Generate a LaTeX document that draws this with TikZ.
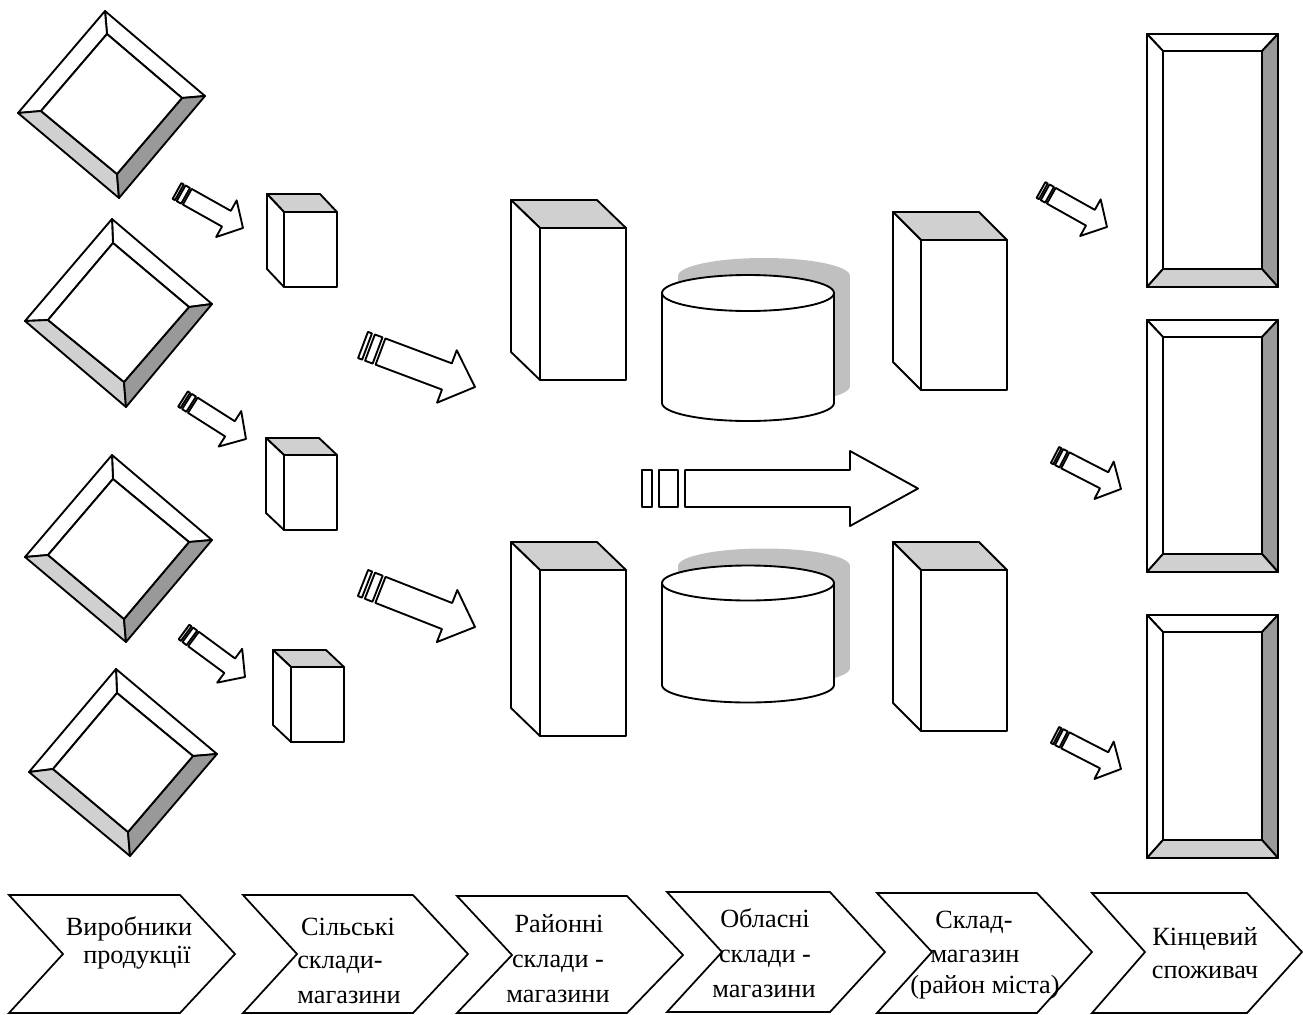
\documentclass[tikz,border=0pt]{standalone}
\usepackage{fontspec}
\setmainfont{Liberation Serif}
\definecolor{lg}{HTML}{D0D0D0}
\definecolor{dg}{HTML}{999999}
\definecolor{sh}{HTML}{C0C0C0}
\tikzset{
  ol/.style={draw=black, line width=1.4pt, line join=round},
  chev/.style={draw=black, line width=1.3pt, line join=miter, fill=white},
  txt/.style={anchor=base, inner sep=0pt, font=\fontsize{19.7}{24}\selectfont}
}
% bevelled diamond: outer top,right,bottom,left ; inner top,right,bottom,left
\newcommand\bevdiamond[8]{%
  \draw[ol,fill=white] (#1)--(#2)--(#6)--(#5)--cycle;
  \draw[ol,fill=white] (#1)--(#5)--(#8)--(#4)--cycle;
  \draw[ol,fill=lg] (#4)--(#8)--(#7)--(#3)--cycle;
  \draw[ol,fill=dg] (#2)--(#3)--(#7)--(#6)--cycle;
  \draw[ol,fill=white] (#5)--(#6)--(#7)--(#8)--cycle;}
% bevelled rectangle: outer x1 y1 x2 y2, inner x1 y1 x2 y2
\newcommand\bevrect[8]{%
  \draw[ol,fill=white] (#1,#2)--(#3,#2)--(#7,#6)--(#5,#6)--cycle;
  \draw[ol,fill=white] (#1,#2)--(#5,#6)--(#5,#8)--(#1,#4)--cycle;
  \draw[ol,fill=dg] (#3,#2)--(#3,#4)--(#7,#8)--(#7,#6)--cycle;
  \draw[ol,fill=lg] (#1,#4)--(#5,#8)--(#7,#8)--(#3,#4)--cycle;
  \draw[ol,fill=white] (#5,#6) rectangle (#7,#8);}
% cuboid: front x1 y1 x2 y2, back offset dx dy
\newcommand\cuboid[6]{%
  \pgfmathsetmacro\cuA{#1+#5}\pgfmathsetmacro\cuB{#2+#6}%
  \pgfmathsetmacro\cuC{#3+#5}\pgfmathsetmacro\cuD{#4+#6}%
  \draw[ol,fill=lg] (#1,#2)--(\cuA,\cuB)--(\cuC,\cuB)--(#3,#2)--cycle;
  \draw[ol,fill=white] (#1,#2)--(\cuA,\cuB)--(\cuA,\cuD)--(#1,#4)--cycle;
  \draw[ol,fill=white] (#1,#2) rectangle (#3,#4);}
% cylinder: cx rx topcy botcy ry
\newcommand\cyl[5]{%
  \pgfmathsetmacro\cyL{#1-#2}\pgfmathsetmacro\cyR{#1+#2}%
  \begin{scope}[shift={(16,-17)}]
    \fill[sh] (#1,#3) ellipse [x radius=#2, y radius=#5];
    \fill[sh] (\cyL,#3) rectangle (\cyR,#4);
    \fill[sh] (#1,#4) ellipse [x radius=#2, y radius=#5];
  \end{scope}
  \fill[white] (#1,#4) ellipse [x radius=#2, y radius=#5];
  \fill[white] (\cyL,#3) rectangle (\cyR,#4);
  \draw[ol] (\cyL,#3) -- (\cyL,#4);
  \draw[ol] (\cyR,#3) -- (\cyR,#4);
  \begin{scope}
    \clip (\cyL-5,#4) rectangle (\cyR+5,#4+#5+5);
    \draw[ol] (#1,#4) ellipse [x radius=#2, y radius=#5];
  \end{scope}
  \draw[ol,fill=white] (#1,#3) ellipse [x radius=#2, y radius=#5];}
% block arrow with striped tail: sx sy tx ty bodyhalf headhalf headlen
\newcommand\blockarrow[7]{%
  \pgfmathsetmacro\baang{atan2(#2-#4,#3-#1)}%
  \pgfmathsetmacro\balen{veclen(#3-#1,#4-#2)}%
  \pgfmathsetmacro\baa{0.036*\balen}\pgfmathsetmacro\bab{0.062*\balen}%
  \pgfmathsetmacro\bac{0.13*\balen}\pgfmathsetmacro\bad{0.156*\balen}%
  \pgfmathsetmacro\bae{\balen-#7}%
  \begin{scope}[shift={(#1,#2)},rotate=\baang]
    \draw[ol,fill=white] (0,-#5) rectangle (\baa,#5);
    \draw[ol,fill=white] (\bab,-#5) rectangle (\bac,#5);
    \draw[ol,fill=white] (\bad,-#5) -- (\bae,-#5) -- (\bae,-#6) -- (\balen,0)
       -- (\bae,#6) -- (\bae,#5) -- (\bad,#5) -- cycle;
  \end{scope}}
\begin{document}
\begin{tikzpicture}[x=0.75pt,y=-0.75pt]
\useasboundingbox (0,0) rectangle (1303,1014);

% producers (diamonds)
\bevdiamond{105,11}{205,96}{119,198}{18,113}{107,34}{182,98}{117,174}{41,111}
\bevdiamond{112,219}{212,304}{126,407}{25,321}{113,243}{189,307}{124,382}{48,320}
\bevdiamond{112,455}{212,540}{126,642}{25,557}{113,479}{189,542}{124,619}{48,555}
\bevdiamond{116,669}{217,754}{130,856}{29,772}{117,693}{193,756}{128,832}{53,769}

% small arrows to rural warehouses
\blockarrow{177}{191}{243}{228}{9}{21}{19}
\blockarrow{183}{399}{246}{439}{9}{21}{19}
\blockarrow{184}{632}{245}{677}{9}{21}{19}

% rural warehouses
\cuboid{284}{212}{337}{287}{-17}{-18}
\cuboid{284}{455}{337}{530}{-18}{-17}
\cuboid{291}{667}{344}{742}{-18}{-17}

% medium arrows
\blockarrow{363}{345}{475}{387}{14}{28}{30}
\blockarrow{363}{583}{475}{627}{14}{28}{30}

% district warehouses
\cuboid{540}{228}{626}{380}{-29}{-28}
\cuboid{540}{570}{626}{736}{-29}{-28}

% regional warehouses (cylinders)
\cyl{748}{86}{293}{403}{18}
\cyl{748}{86}{583}{685}{17.5}

% big horizontal arrow
\blockarrow{642}{488.5}{918}{488.5}{18.5}{37.5}{68}

% city warehouses
\cuboid{921}{240}{1007}{390}{-28}{-28}
\cuboid{921}{570}{1007}{731}{-28}{-28}

% small arrows to consumers
\blockarrow{1041}{190}{1107}{227}{9}{21}{19}
\blockarrow{1055}{455}{1121}{489}{9}{21}{19}
\blockarrow{1055}{735}{1121}{769}{9}{21}{19}

% consumers
\bevrect{1147}{34}{1278}{287}{1163}{51}{1262}{269}
\bevrect{1147}{320}{1278}{572}{1163}{337}{1262}{554}
\bevrect{1147}{615}{1278}{858}{1163}{632}{1262}{840}

% chevrons
\draw[chev] (9,895) -- (180,895) -- (235,954) -- (180,1013) -- (9,1013) -- (63,954) -- cycle;
\draw[chev] (243,895) -- (413,895) -- (468,954) -- (413,1013) -- (243,1013) -- (297,954) -- cycle;
\draw[chev] (457,896) -- (627,896) -- (683,955) -- (627,1013) -- (457,1013) -- (512,955) -- cycle;
\draw[chev] (667,892) -- (830,892) -- (885,952) -- (830,1012) -- (667,1012) -- (722,952) -- cycle;
\draw[chev] (877,893) -- (1037,893) -- (1092,952) -- (1037,1013) -- (877,1013) -- (932,952) -- cycle;
\draw[chev] (1092,893) -- (1247,893) -- (1302,952) -- (1247,1013) -- (1092,1013) -- (1145,952) -- cycle;

% labels
\node[txt] (c1a) at (129,935) {Виробники};
\node[txt] (c1b) at (137,963) {продукції};
\node[txt] (c2a) at (348,935) {Сільські};
\node[txt] (c2b) at (340,968) {склади-};
\node[txt] (c2c) at (349,1003) {магазини};
\node[txt] (c3a) at (559,932) {Районні};
\node[txt] (c3b) at (558,967) {склади -};
\node[txt] (c3c) at (558,1002) {магазини};
\node[txt] (c4a) at (765,927) {Обласні};
\node[txt] (c4b) at (765,962) {склади -};
\node[txt] (c4c) at (764,997) {магазини};
\node[txt] (c5a) at (974,928) {Склад-};
\node[txt] (c5b) at (975,962) {магазин};
\node[txt] (c5c) at (985,993) {(район міста)};
\node[txt] (c6a) at (1205,945) {Кінцевий};
\node[txt] (c6b) at (1205,978) {споживач};
\end{tikzpicture}
\end{document}
